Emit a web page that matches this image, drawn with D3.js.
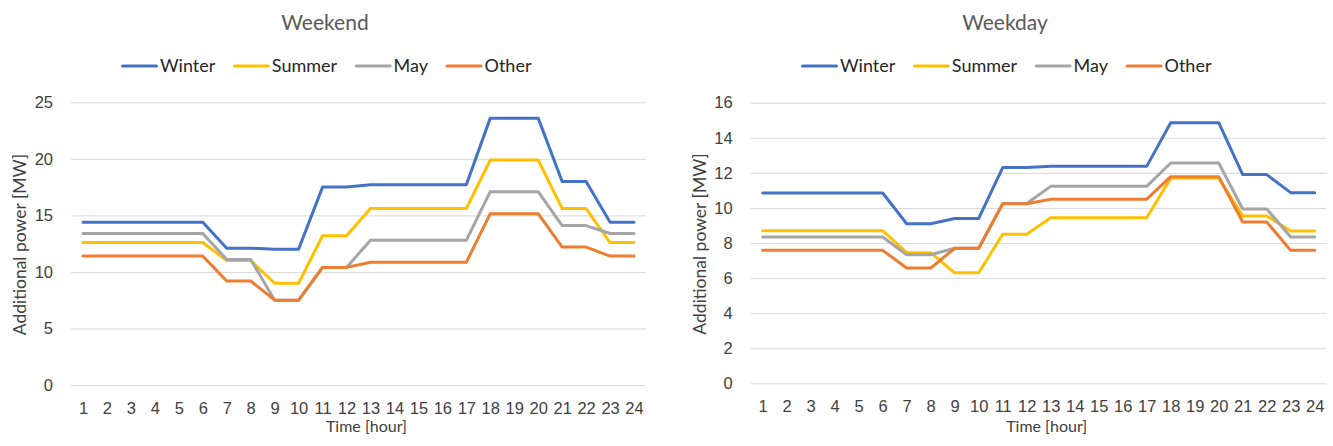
<!DOCTYPE html>
<html lang="en">
<head>
<meta charset="utf-8">
<title>Additional power - Weekend / Weekday</title>
<script type="text/javascript" src="https://cdn.jsdelivr.net/npm/d3@7"></script>
<style>
  body { margin: 0; background: #fff; }
  svg { font-family: Lato, "Open Sans", sans-serif; }
  .grid line { stroke: #d9d9d9; stroke-width: 1; }
  .grid path { display: none; }
  .tick text { fill: #404040; font-size: 16.5px; }
</style>
</head>
<body>
<script type="text/javascript">

// hours on the x axis
let hours = ["1","2","3","4","5","6","7","8","9","10","11","12","13","14","15","16","17","18","19","20","21","22","23","24"];

let seriesNames = ["Winter", "Summer", "May", "Other"];
let seriesColors = ["#4472c4", "#ffc000", "#a5a5a5", "#ed7d31"];

// weekend values [MW]
let winterWeekend = [14.4,14.4,14.4,14.4,14.4,14.4,12.1,12.1,12.0,12.0,17.5,17.5,17.7,17.7,17.7,17.7,17.7,23.6,23.6,23.6,18.0,18.0,14.4,14.4];
let summerWeekend = [12.6,12.6,12.6,12.6,12.6,12.6,11.0,11.0,9.0,9.0,13.2,13.2,15.6,15.6,15.6,15.6,15.6,19.9,19.9,19.9,15.6,15.6,12.6,12.6];
let mayWeekend    = [13.4,13.4,13.4,13.4,13.4,13.4,11.1,11.1,7.5,7.5,10.4,10.4,12.8,12.8,12.8,12.8,12.8,17.1,17.1,17.1,14.1,14.1,13.4,13.4];
let otherWeekend  = [11.4,11.4,11.4,11.4,11.4,11.4,9.2,9.2,7.5,7.5,10.4,10.4,10.85,10.85,10.85,10.85,10.85,15.15,15.15,15.15,12.2,12.2,11.4,11.4];

// weekday values [MW]
let winterWeekday = [10.85,10.85,10.85,10.85,10.85,10.85,9.1,9.1,9.4,9.4,12.3,12.3,12.37,12.37,12.37,12.37,12.37,14.86,14.86,14.86,11.9,11.9,10.87,10.87];
let summerWeekday = [8.7,8.7,8.7,8.7,8.7,8.7,7.45,7.45,6.3,6.3,8.5,8.5,9.44,9.44,9.44,9.44,9.44,11.7,11.7,11.7,9.54,9.54,8.68,8.68];
let mayWeekday    = [8.34,8.34,8.34,8.34,8.34,8.34,7.33,7.33,7.7,7.7,10.25,10.25,11.23,11.23,11.23,11.23,11.23,12.56,12.56,12.56,9.94,9.94,8.34,8.34];
let otherWeekday  = [7.58,7.58,7.58,7.58,7.58,7.58,6.57,6.57,7.7,7.7,10.24,10.24,10.5,10.5,10.5,10.5,10.5,11.78,11.78,11.78,9.2,9.2,7.58,7.58];

let weekendTicks = [0, 5, 10, 15, 20, 25];
let weekdayTicks = [0, 2, 4, 6, 8, 10, 12, 14, 16];

let w = 1333;
let h = 446;

let svg = d3.select("body")
  .append("svg")
  .attr("width", w)
  .attr("height", h);

function drawChart(opts) {

  let g = svg.append("g")
    .attr("transform", "translate(" + opts.dx + ",0)");

  let xScale = d3.scalePoint()
    .domain(hours)
    .range([opts.left, opts.right])
    .padding(0.5);

  let yScale = d3.scaleLinear()
    .domain([0, d3.max(opts.ticks)])
    .range([opts.bottom, opts.top]);

  // gridlines + y labels
  let yAxis = d3.axisLeft(yScale)
    .tickValues(opts.ticks)
    .tickSize(-(opts.right - opts.left))
    .tickPadding(18);

  g.append("g")
    .attr("class", "grid")
    .attr("transform", "translate(" + opts.left + ",0)")
    .call(yAxis);

  let xAxis = d3.axisBottom(xScale)
    .tickSize(0)
    .tickPadding(17);

  let xg = g.append("g")
    .attr("class", "grid")
    .attr("transform", "translate(0," + opts.bottom + ")")
    .call(xAxis);
  xg.select(".domain").remove();

  // lines
  let line = d3.line()
    .x((d, i) => xScale(hours[i]))
    .y((d) => yScale(d));

  opts.series.forEach(function(s, k) {
    g.append("path")
      .datum(s)
      .attr("d", line)
      .attr("fill", "none")
      .attr("stroke", seriesColors[k])
      .attr("stroke-width", 3)
      .attr("stroke-linejoin", "round")
      .attr("stroke-linecap", "round");
  });

  // title
  g.append("text")
    .attr("x", opts.titleX)
    .attr("y", 30)
    .attr("text-anchor", "middle")
    .attr("fill", "#595959")
    .style("font-size", "21px")
    .text(opts.title);

  // axis titles
  g.append("text")
    .attr("x", (opts.left + opts.right) / 2 + 8)
    .attr("y", 432)
    .attr("text-anchor", "middle")
    .attr("fill", "#404040")
    .style("font-size", "16px")
    .text("Time [hour]");

  g.append("text")
    .attr("transform", "translate(26," + ((opts.top + opts.bottom) / 2 + 1) + ") rotate(-90)")
    .attr("text-anchor", "middle")
    .attr("fill", "#404040")
    .style("font-size", "17.5px")
    .text("Additional power [MW]");

  // legend
  let legend = g.append("g");
  let xPos = 0;
  seriesNames.forEach(function(name, k) {
    legend.append("line")
      .attr("x1", xPos).attr("x2", xPos + 34)
      .attr("y1", 66).attr("y2", 66)
      .attr("stroke", seriesColors[k])
      .attr("stroke-width", 3)
      .attr("stroke-linecap", "round");
    let t = legend.append("text")
      .attr("x", xPos + 37.5)
      .attr("y", 72)
      .attr("fill", "#262626")
      .style("font-size", "18px")
      .text(name);
    xPos += 37.5 + t.node().getComputedTextLength() + 19;
  });
  let legendWidth = xPos - 19;
  legend.attr("transform", "translate(" + (opts.legendCenter - legendWidth / 2) + ",0)");
}

drawChart({
  dx: 0, left: 71, right: 646, top: 102.3, bottom: 385,
  ticks: weekendTicks, title: "Weekend", titleX: 325, legendCenter: 327,
  series: [winterWeekend, summerWeekend, mayWeekend, otherWeekend]
});

drawChart({
  dx: 680, left: 70.7, right: 646.7, top: 102.7, bottom: 383.3,
  ticks: weekdayTicks, title: "Weekday", titleX: 325, legendCenter: 327,
  series: [winterWeekday, summerWeekday, mayWeekday, otherWeekday]
});

</script>
</body>
</html>
